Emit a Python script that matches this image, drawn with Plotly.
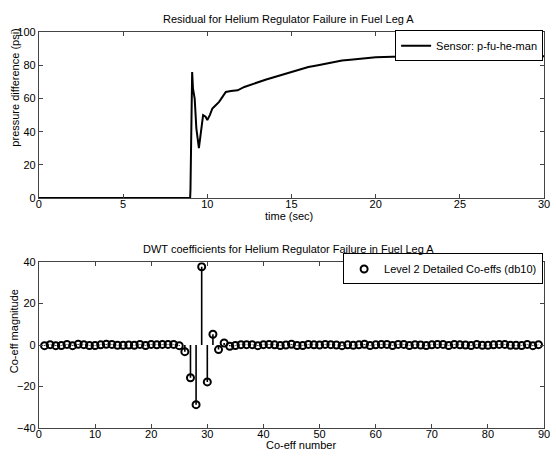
import plotly.graph_objects as go

# Top panel: residual
time_s = [0, 8.98, 9.0, 9.05, 9.1, 9.15, 9.25, 9.35, 9.5, 9.6, 9.75, 9.9, 10.0, 10.15, 10.3, 10.5,
          10.7, 10.9, 11.1, 11.4, 11.8, 12.2, 12.6, 13.0, 13.5, 14.0, 14.5, 15.0, 15.5, 16.0,
          16.5, 17.0, 17.5, 18.0, 18.5, 19.0, 19.5, 20.0, 21.0, 22.0, 23.0, 24.0, 25.4, 26.0, 28.0, 30.0]
pressure = [0, 0, 5, 60, 76, 66, 60, 42, 30, 38, 50, 49, 47, 50, 54, 56,
            58, 61, 64, 64.5, 65, 67, 68.5, 70, 71.5, 73, 74.5, 76, 77.5, 79,
            80, 81, 82, 83, 83.5, 84, 84.5, 85, 85.3, 85.5, 85.7, 85.8, 86, 85.5, 85.5, 85.5]
series1_name = "Sensor: p-fu-he-man"

# Bottom panel: DWT coefficients
coeff_num = list(range(1, 90))
coeff_val = [-0.3, 0.2, -0.3, -0.2, 0.3, -0.3, 0.4, 0.2, -0.2, -0.2,
             0.1, 0.4, 0.3, -0.1, -0.1, 0.0, -0.1, 0.3, -0.2, 0.3,
             0.1, 0.3, 0.3, 0.3, -0.3, -3.2, -15.8, -28.8, 37.8, -17.8,
             5.2, -2.2, 1.0, -0.6, -0.2, 0.2, 0.2, 0.2, -0.3, 0.2,
             0.3, 0.1, -0.2, 0.0, 0.4, -0.2, -0.2, 0.3, 0.1, 0.0,
             0.3, 0.2, 0.0, -0.3, 0.1, -0.1, 0.1, 0.4, -0.2, 0.1,
             0.3, 0.3, -0.2, 0.3, 0.3, -0.2, 0.2, 0.0, -0.2, 0.1,
             0.3, 0.3, -0.2, 0.3, 0.1, 0.0, -0.2, 0.3, -0.1, -0.1,
             0.1, 0.3, 0.3, -0.1, -0.1, -0.2, 0.3, -0.3, 0.2]
series2_name = "Level 2 Detailed Co-effs (db10)"

FONT = "Liberation Sans, Arial, sans-serif"
W, H = 556, 466

stem_x, stem_y = [], []
for xv, yv in zip(coeff_num, coeff_val):
    stem_x += [xv, xv, None]
    stem_y += [0, yv, None]

fig = go.Figure()
fig.add_trace(go.Scatter(x=time_s, y=pressure, mode="lines", name=series1_name,
                         line=dict(color="black", width=2), xaxis="x", yaxis="y",
                         legend="legend"))
fig.add_trace(go.Scatter(x=stem_x, y=stem_y, mode="lines", showlegend=False,
                         line=dict(color="black", width=1.6), xaxis="x2", yaxis="y2",
                         hoverinfo="skip"))
fig.add_trace(go.Scatter(x=coeff_num, y=coeff_val, mode="markers", name=series2_name,
                         marker=dict(symbol="circle-open", color="black", size=7,
                                     line=dict(width=2, color="black")),
                         xaxis="x2", yaxis="y2", legend="legend2"))

axis_common = dict(showline=True, linecolor="#444", linewidth=1, mirror="ticks",
                   ticks="inside", ticklen=4, tickcolor="#444", showgrid=False,
                   zeroline=False, ticklabeloverflow="allow",
                   tickfont=dict(family=FONT, size=11, color="black"))
xaxis_extra = dict(ticklabelstandoff=-4)

XL, XR = 36.5 / W, 550 / W


def py(p):
    return 1 - p / H


def label(text, x, y, angle=0):
    return dict(text=text, x=x / W, y=py(y), xref="paper", yref="paper", showarrow=False,
                xanchor="center", yanchor="middle", textangle=angle,
                font=dict(size=11, family=FONT, color="black"))


fig.update_layout(
    width=W, height=H,
    margin=dict(l=0, r=0, t=0, b=0),
    paper_bgcolor="white", plot_bgcolor="white",
    font=dict(family=FONT, size=11, color="black"),
    xaxis=dict(domain=[XL, XR], range=[0, 30], dtick=5, anchor="y", **axis_common, **xaxis_extra),
    yaxis=dict(domain=[py(197), py(27)], range=[0, 100], dtick=20, anchor="x", **axis_common),
    xaxis2=dict(domain=[XL, XR], range=[0, 90], dtick=10, anchor="y2", **axis_common, **xaxis_extra),
    yaxis2=dict(domain=[py(433), py(263)], range=[-40, 40], dtick=20, anchor="x2", **axis_common),
    legend=dict(x=549 / W, y=py(25), xanchor="right", yanchor="top", bordercolor="black",
                borderwidth=1, bgcolor="white", font=dict(size=11, family=FONT),
                itemwidth=30),
    legend2=dict(x=549 / W, y=py(254), xanchor="right", yanchor="top", bordercolor="black",
                 borderwidth=1, bgcolor="white", font=dict(size=11, family=FONT),
                 itemwidth=30),
    annotations=[
        label("Residual for Helium Regulator Failure in Fuel Leg A", 290, 13),
        label("time (sec)", 291, 216),
        label("pressure difference (psi)", 12, 84, -90),
        label("DWT coefficients for Helium Regulator Failure in Fuel Leg A", 290, 249),
        label("Co-eff number", 303, 451),
        label("Co-eff magnitude", 12, 334, -90),
    ],
)

fig.write_html("out.html")
